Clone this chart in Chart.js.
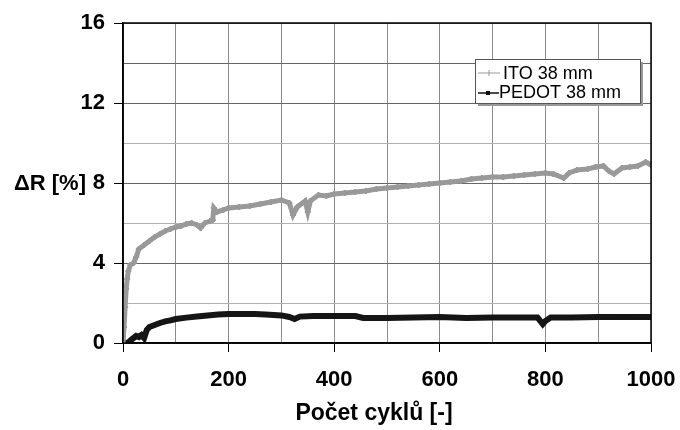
<!DOCTYPE html>
<html>
<head>
<meta charset="utf-8">
<title>ITO vs PEDOT</title>
<script src="https://cdn.jsdelivr.net/npm/chart.js@4.4.0/dist/chart.umd.min.js"></script>
<style>
  body { margin: 0; background: #fff; }
  #wrap { position: relative; width: 680px; height: 430px; }
</style>
</head>
<body>
<div id="wrap"><canvas id="myChart" width="680" height="430"></canvas></div>
<script>
// data
var itoCycles = [0, 2, 4, 6, 8, 10, 14, 20, 25, 30, 40, 50, 60, 70, 80, 90, 100, 110, 120, 130,
  140, 147, 155, 165, 170, 172, 178, 190, 200, 220, 240, 260, 280, 300, 315, 322, 330, 345, 350, 355,
  370, 385, 400, 420, 440, 460, 480, 500, 520, 540, 560, 580, 600, 620, 640, 660, 680, 700, 720, 740,
  760, 780, 800, 815, 835, 845, 860, 880, 895, 910, 920, 930, 945, 960, 975, 990, 1000];
var itoValues = [0, 0.8, 1.8, 2.7, 3.2, 3.6, 3.9, 4.0, 4.3, 4.7, 4.9, 5.1, 5.3, 5.45, 5.6, 5.7, 5.8, 5.85, 5.95, 6.0,
  5.9, 5.75, 6.0, 6.1, 6.15, 6.75, 6.55, 6.65, 6.75, 6.8, 6.85, 6.95, 7.05, 7.15, 7.0, 6.4, 6.8, 7.1, 6.55, 7.1,
  7.4, 7.35, 7.45, 7.5, 7.55, 7.6, 7.7, 7.75, 7.8, 7.85, 7.9, 7.95, 8.0, 8.05, 8.1, 8.2, 8.25, 8.3, 8.3, 8.35,
  8.4, 8.45, 8.5, 8.45, 8.25, 8.5, 8.65, 8.7, 8.8, 8.85, 8.6, 8.45, 8.75, 8.8, 8.85, 9.05, 8.9];

var pedotCycles = [0, 10, 15, 20, 25, 30, 35, 40, 45, 50, 60, 70, 80, 90, 100, 120, 140, 160, 180, 200,
  220, 250, 270, 300, 315, 325, 335, 360, 400, 440, 455, 500, 550, 600, 650, 700, 750, 785, 795, 800,
  810, 850, 900, 950, 1000];
var pedotValues = [0, 0.02, 0.15, 0.25, 0.35, 0.3, 0.4, 0.25, 0.65, 0.8, 0.9, 1.0, 1.08, 1.13, 1.2, 1.27, 1.33, 1.38, 1.42, 1.45,
  1.45, 1.45, 1.43, 1.38, 1.3, 1.2, 1.32, 1.35, 1.35, 1.35, 1.25, 1.25, 1.27, 1.3, 1.25, 1.27, 1.27, 1.28, 0.95, 1.1,
  1.27, 1.28, 1.3, 1.3, 1.3];

var seriesNames = ['ITO 38 mm', 'PEDOT 38 mm'];
var xTickLabels = [0, 200, 400, 600, 800, 1000];
var yTickLabels = [0, 4, 8, 12, 16];

var FONT = "'Liberation Sans', Arial, sans-serif";

function toPoints(xs, ys) {
  var pts = [];
  for (var i = 0; i < xs.length; i++) {
    pts.push({ x: xs[i], y: ys[i] });
  }
  return pts;
}

// frame round the plot, axis titles and the boxed legend
var extras = {
  id: 'extras',
  afterDraw: function (chart) {
    var c = chart.ctx;
    var a = chart.chartArea;
    c.save();
    c.strokeStyle = '#000';
    c.lineWidth = 1.5;
    c.strokeRect(a.left, a.top, a.right - a.left, a.bottom - a.top);

    // titles (y one is horizontal, x one sits a bit left of centre)
    c.fillStyle = '#000';
    c.font = 'bold 22px ' + FONT;
    c.textAlign = 'right';
    c.textBaseline = 'middle';
    c.fillText('\u0394R [%]', 86, 184);
    c.font = 'bold 23px ' + FONT;
    c.textAlign = 'center';
    c.fillText('Počet cyklů [-]', 374, 414);

    // legend box
    var lx = 475, ly = 59, lw = 165, lh = 44;
    c.fillStyle = '#999';
    c.fillRect(lx + 3, ly + 3, lw, lh);
    c.fillStyle = '#fff';
    c.fillRect(lx, ly, lw, lh);
    c.strokeStyle = '#555';
    c.lineWidth = 1;
    c.strokeRect(lx + 0.5, ly + 0.5, lw, lh);

    c.lineWidth = 1;
    c.strokeStyle = '#999';
    c.beginPath(); c.moveTo(478, 73); c.lineTo(500, 73); c.stroke();
    c.beginPath(); c.moveTo(489, 70); c.lineTo(489, 76); c.stroke();
    c.strokeStyle = '#111';
    c.lineWidth = 1.5;
    c.beginPath(); c.moveTo(478, 93); c.lineTo(499, 93); c.stroke();
    c.fillStyle = '#111';
    c.fillRect(486, 91, 4, 4);

    c.fillStyle = '#000';
    c.font = '18px ' + FONT;
    c.textAlign = 'left';
    c.fillText(seriesNames[0], 503, 74);
    c.fillText(seriesNames[1], 499, 93);
    c.restore();
  }
};

function drawChart() {
  var ctx = document.getElementById('myChart').getContext('2d');
  var chart = new Chart(ctx, {
    type: 'scatter',
    data: {
      datasets: [
        {
          label: seriesNames[0],
          data: toPoints(itoCycles, itoValues),
          showLine: true,
          borderColor: '#999',
          borderWidth: 5,
          pointStyle: 'cross',
          pointRadius: 3,
          pointBorderColor: '#999',
          pointBorderWidth: 2,
          tension: 0
        },
        {
          label: seriesNames[1],
          data: toPoints(pedotCycles, pedotValues),
          showLine: true,
          borderColor: '#151515',
          backgroundColor: '#151515',
          borderWidth: 6,
          pointStyle: 'rect',
          pointRadius: 2.5,
          pointBorderWidth: 0,
          tension: 0
        }
      ]
    },
    options: {
      responsive: false,
      animation: false,
      devicePixelRatio: 1,
      layout: { padding: { left: 0, right: 29, top: 23, bottom: 0 } },
      plugins: {
        legend: { display: false },
        tooltip: { enabled: false }
      },
      scales: {
        x: {
          type: 'linear',
          min: 0,
          max: 1000,
          afterFit: function (s) {
            s.height = 87;
            // the 1000 label may hang past the plot, keep the plot wide
            s.paddingLeft = 0;
            s.paddingRight = 0;
          },
          ticks: {
            stepSize: 100,
            color: '#000',
            font: { family: FONT, size: 22, weight: 'bold' },
            padding: 15,
            maxRotation: 0,
            autoSkip: false,
            callback: function (v) { return xTickLabels.indexOf(v) >= 0 ? String(v) : ''; }
          },
          grid: {
            color: '#8a8a8a',
            lineWidth: 1,
            tickLength: 9,
            tickColor: function (c) {
              return c.tick && xTickLabels.indexOf(c.tick.value) >= 0 ? '#000' : 'rgba(0,0,0,0)';
            }
          },
          border: { color: '#000', width: 1.5 }
        },
        y: {
          min: 0,
          max: 16,
          afterFit: function (s) { s.width = 123; },
          ticks: {
            stepSize: 2,
            color: '#000',
            font: { family: FONT, size: 22, weight: 'bold' },
            padding: 9,
            callback: function (v) { return yTickLabels.indexOf(v) >= 0 ? String(v) : ''; }
          },
          grid: {
            color: function (c) {
              var v = c.tick ? c.tick.value : 0;
              return (v % 4 === 0 || v === 14) ? '#666' : '#b0b0b0';
            },
            lineWidth: 1,
            tickLength: 9,
            tickColor: function (c) {
              return c.tick && yTickLabels.indexOf(c.tick.value) >= 0 ? '#000' : 'rgba(0,0,0,0)';
            }
          },
          border: { color: '#000', width: 1.5 }
        }
      }
    },
    plugins: [extras]
  });
  console.log(chart.chartArea);
}

drawChart();
</script>
</body>
</html>
